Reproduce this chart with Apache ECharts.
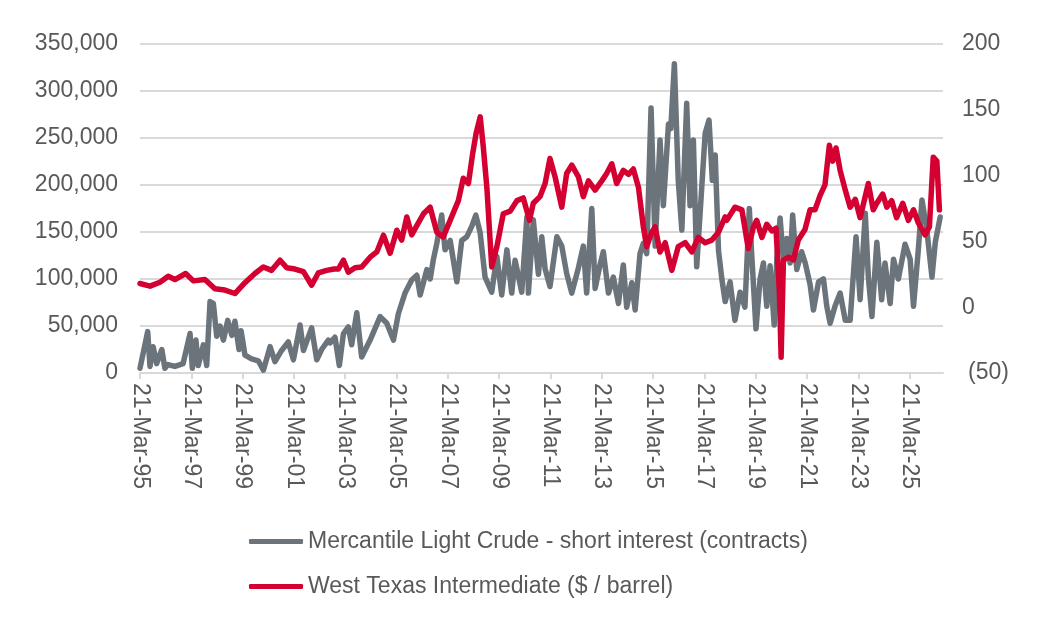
<!DOCTYPE html>
<html lang="en">
<head>
    <meta charset="UTF-8">
    <title>Short interest vs WTI</title>
    <script src="https://cdn.jsdelivr.net/npm/echarts@6/dist/echarts.min.js"></script>
    <style>
        html, body { margin: 0; padding: 0; background: #fff; }
    </style>
</head>
<body>
<div id="main" style="width: 1042px; height: 635px;"></div>
<script type="text/javascript">
    // first date on the axis is 21-Mar-95 (decimal year)
    var startYear = 1995.22;

    // x labels every two years, 21-Mar-95 .. 21-Mar-25
    var tickYears = [95, 97, 99, 1, 3, 5, 7, 9, 11, 13, 15, 17, 19, 21, 23, 25];

    // Mercantile Light Crude - short interest (contracts)
    var shortDates = [
        1995.22, 1995.29, 1995.52, 1995.61, 1995.73, 1995.87, 1996.07, 1996.19, 1996.31, 1996.58,
        1996.90, 1997.17, 1997.26, 1997.40, 1997.49, 1997.69, 1997.82, 1997.95, 1998.08, 1998.21,
        1998.34, 1998.47, 1998.64, 1998.80, 1998.92, 1999.08, 1999.16, 1999.31, 1999.57, 1999.83,
        2000.03, 2000.29, 2000.48, 2000.74, 2001.00, 2001.20, 2001.46, 2001.59, 2001.91, 2002.11,
        2002.30, 2002.56, 2002.63, 2002.82, 2002.99, 2003.15, 2003.34, 2003.47, 2003.67, 2003.86,
        2004.19, 2004.58, 2004.84, 2005.10, 2005.29, 2005.55, 2005.81, 2006.01, 2006.14, 2006.40,
        2006.53, 2006.65, 2006.79, 2006.98, 2007.11, 2007.31, 2007.57, 2007.76, 2007.96, 2008.15,
        2008.31, 2008.48, 2008.67, 2008.93, 2009.13, 2009.32, 2009.52, 2009.71, 2009.84, 2010.10,
        2010.30, 2010.36, 2010.55, 2010.75, 2010.88, 2011.01, 2011.20, 2011.47, 2011.66, 2011.85,
        2012.05, 2012.31, 2012.50, 2012.63, 2012.83, 2012.96, 2013.15, 2013.28, 2013.48, 2013.67,
        2013.87, 2014.06, 2014.19, 2014.39, 2014.52, 2014.71, 2014.84, 2014.97, 2015.14, 2015.30,
        2015.49, 2015.62, 2015.82, 2015.91, 2016.05, 2016.20, 2016.34, 2016.53, 2016.66, 2016.79,
        2016.92, 2017.12, 2017.25, 2017.40, 2017.53, 2017.64, 2017.77, 2017.90, 2018.03, 2018.22,
        2018.41, 2018.61, 2018.80, 2018.97, 2019.06, 2019.23, 2019.39, 2019.52, 2019.65, 2019.78,
        2019.94, 2020.04, 2020.17, 2020.30, 2020.43, 2020.56, 2020.66, 2020.82, 2021.01, 2021.15,
        2021.34, 2021.47, 2021.67, 2021.86, 2021.99, 2022.12, 2022.31, 2022.51, 2022.71, 2022.90,
        2023.13, 2023.29, 2023.49, 2023.61, 2023.75, 2023.94, 2024.13, 2024.26, 2024.46, 2024.59,
        2024.78, 2025.04, 2025.24, 2025.37, 2025.56, 2025.70, 2025.89, 2026.09, 2026.22, 2026.41
    ];
    var shortValues = [
        5000, 3000, 44000, 7000, 28000, 10000, 25000, 5000, 9000, 7000,
        10000, 42000, 5000, 35000, 8000, 30000, 8000, 76000, 74000, 39000,
        50000, 35000, 56000, 40000, 55000, 25000, 45000, 19000, 15000, 13000,
        3000, 28000, 12000, 24000, 33000, 14000, 51000, 24000, 48000, 14000,
        25000, 35000, 32000, 38000, 8000, 42000, 49000, 30000, 64000, 17000,
        35000, 60000, 53000, 35000, 63000, 85000, 99000, 104000, 83000, 110000,
        100000, 120000, 138000, 168000, 131000, 141000, 97000, 141000, 145000, 156000,
        168000, 149000, 102000, 86000, 124000, 83000, 131000, 85000, 120000, 86000,
        166000, 85000, 163000, 105000, 145000, 111000, 92000, 145000, 135000, 106000,
        85000, 112000, 135000, 85000, 175000, 90000, 115000, 129000, 85000, 102000,
        74000, 115000, 70000, 96000, 67000, 127000, 138000, 127000, 282000, 135000,
        248000, 178000, 265000, 260000, 329000, 205000, 152000, 287000, 178000, 248000,
        113000, 199000, 255000, 269000, 205000, 232000, 130000, 100000, 76000, 97000,
        56000, 86000, 70000, 175000, 128000, 47000, 100000, 117000, 71000, 114000,
        51000, 120000, 165000, 120000, 143000, 117000, 168000, 110000, 129000, 117000,
        94000, 67000, 97000, 100000, 71000, 53000, 71000, 85000, 56000, 56000,
        145000, 78000, 170000, 102000, 60000, 139000, 78000, 117000, 74000, 121000,
        100000, 137000, 121000, 71000, 132000, 184000, 152000, 102000, 139000, 166000
    ];

    // West Texas Intermediate ($ / barrel)
    var wtiDates = [
        1995.22, 1995.29, 1995.61, 1996.00, 1996.32, 1996.58, 1997.00, 1997.30, 1997.75, 1998.14,
        1998.53, 1998.92, 1999.31, 1999.70, 2000.03, 2000.35, 2000.68, 2000.94, 2001.26, 2001.59,
        2001.91, 2002.17, 2002.50, 2002.78, 2002.95, 2003.15, 2003.34, 2003.60, 2003.86, 2004.19,
        2004.45, 2004.71, 2004.97, 2005.23, 2005.42, 2005.62, 2005.81, 2006.01, 2006.27, 2006.53,
        2006.79, 2007.04, 2007.31, 2007.63, 2007.82, 2008.02, 2008.19, 2008.32, 2008.48, 2008.60,
        2008.74, 2008.93, 2009.13, 2009.38, 2009.65, 2009.91, 2010.16, 2010.40, 2010.55, 2010.81,
        2011.01, 2011.20, 2011.40, 2011.66, 2011.85, 2012.05, 2012.31, 2012.50, 2012.70, 2012.96,
        2013.22, 2013.41, 2013.61, 2013.80, 2014.06, 2014.26, 2014.45, 2014.65, 2014.84, 2014.97,
        2015.17, 2015.30, 2015.49, 2015.69, 2015.95, 2016.20, 2016.47, 2016.73, 2016.98, 2017.25,
        2017.51, 2017.77, 2018.03, 2018.09, 2018.41, 2018.68, 2018.93, 2019.13, 2019.26, 2019.46,
        2019.65, 2019.85, 2020.01, 2020.14, 2020.21, 2020.30, 2020.50, 2020.69, 2020.88, 2021.14,
        2021.34, 2021.53, 2021.73, 2021.92, 2022.09, 2022.22, 2022.35, 2022.51, 2022.71, 2022.90,
        2023.10, 2023.29, 2023.61, 2023.80, 2023.94, 2024.17, 2024.33, 2024.52, 2024.71, 2024.95,
        2025.17, 2025.37, 2025.56, 2025.82, 2025.99, 2026.14, 2026.28, 2026.38
    ];
    var wtiValues = [
        18, 18, 16, 19, 23.5, 21, 25.6, 20, 21, 14,
        13, 10.4, 18.6, 25.6, 30.6, 28, 35.7, 30, 29, 27,
        16.7, 26, 28, 29, 29, 35.7, 26.6, 30, 30.6, 38,
        42, 54.7, 41, 58.5, 51, 68.6, 55, 62, 71, 76,
        57, 53.4, 66, 81, 98, 94, 117, 132, 144.6, 122,
        91, 30.6, 46, 71, 73, 81, 83, 66, 79, 84,
        94, 113, 99, 76, 101.6, 108, 99, 84, 96, 89,
        96, 101.6, 109, 94, 104, 101, 105, 91, 61, 46,
        57, 61, 42, 49, 28, 46, 49, 42, 53, 49,
        51, 57, 68.6, 66, 76, 74, 44.6, 61, 66, 53,
        63, 58, 60, 13, -38, 35.7, 38, 36, 51, 59,
        74, 74, 85, 93, 123, 111, 121, 104, 89, 76,
        82, 68, 94, 74, 79, 86, 76, 81, 68, 79,
        66, 74, 64, 55, 61, 114, 111, 74
    ];

    function toPoints(dates, values) {
        return dates.map(function (d, i) { return [d - startYear, values[i]]; });
    }

    var font = 'Liberation Sans, Arial, sans-serif';
    var textGrey = '#595959';
    var gridGrey = '#d9d9d9';

    var C = echarts.init(document.getElementById('main'));
    C.setOption({
        animation: false,
        backgroundColor: '#ffffff',
        textStyle: { fontFamily: font },
        grid: { left: 140, right: 99, top: 44, bottom: 262 },
        legend: {
            orient: 'vertical',
            left: 244,
            top: 525,
            icon: 'roundRect',
            itemWidth: 54,
            itemHeight: 5,
            itemGap: 22,
            textStyle: { fontSize: 23, color: textGrey, fontFamily: font },
            data: ['Mercantile Light Crude - short interest (contracts)', 'West Texas Intermediate ($ / barrel)']
        },
        xAxis: {
            type: 'value',
            min: 0,
            max: 31.3,
            interval: 2,
            axisLine: { lineStyle: { color: gridGrey, width: 2 } },
            axisTick: { show: true, length: 6, lineStyle: { color: gridGrey, width: 2 } },
            splitLine: { show: false },
            axisLabel: {
                rotate: -90,
                margin: 10,
                fontSize: 23,
                color: textGrey,
                showMaxLabel: false,
                formatter: function (v) {
                    var k = Math.round(v / 2);
                    if (Math.abs(v - k * 2) > 1e-6 || k >= tickYears.length) return '';
                    var yy = tickYears[k];
                    return '21-Mar-' + (yy < 10 ? '0' + yy : yy);
                }
            }
        },
        yAxis: [
            {
                type: 'value',
                min: 0,
                max: 350000,
                interval: 50000,
                axisLine: { show: false },
                axisTick: { show: false },
                splitLine: { lineStyle: { color: gridGrey, width: 2 } },
                axisLabel: {
                    margin: 22,
                    fontSize: 23,
                    color: textGrey,
                    formatter: function (v) { return v.toLocaleString('en-US'); }
                }
            },
            {
                type: 'value',
                position: 'right',
                min: -50,
                max: 200,
                interval: 50,
                axisLine: { show: false },
                axisTick: { show: false },
                splitLine: { show: false },
                axisLabel: {
                    margin: 19,
                    fontSize: 23,
                    color: textGrey,
                    formatter: function (v) { return v < 0 ? '{neg|(' + (-v) + ')}' : String(v); },
                    rich: {
                        neg: { fontSize: 23, color: textGrey, padding: [0, 0, 0, 6] }
                    }
                }
            }
        ],
        series: [
            {
                name: 'Mercantile Light Crude - short interest (contracts)',
                type: 'line',
                yAxisIndex: 0,
                showSymbol: false,
                color: '#6b737b',
                lineStyle: { width: 5.5, color: '#6b737b', join: 'round', cap: 'round' },
                data: toPoints(shortDates, shortValues)
            },
            {
                name: 'West Texas Intermediate ($ / barrel)',
                type: 'line',
                yAxisIndex: 1,
                showSymbol: false,
                color: '#d40031',
                lineStyle: { width: 5.5, color: '#d40031', join: 'round', cap: 'round' },
                data: toPoints(wtiDates, wtiValues)
            }
        ]
    });
</script>
</body>
</html>
